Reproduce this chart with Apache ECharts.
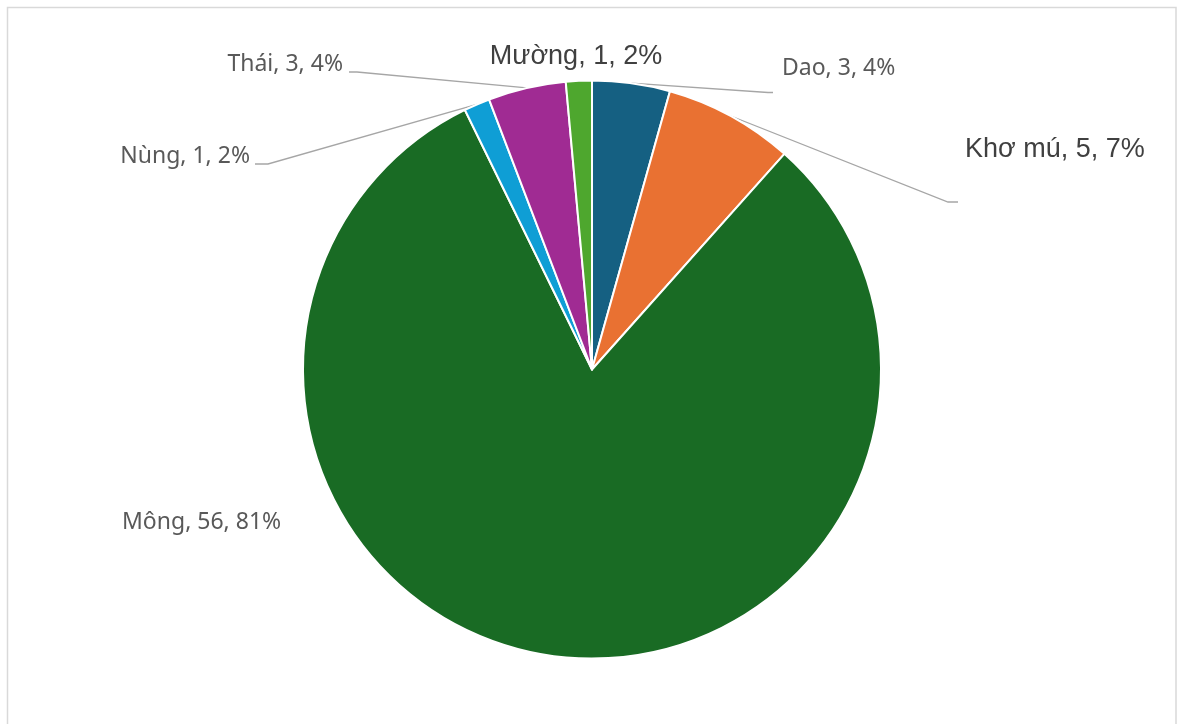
<!DOCTYPE html>
<html>
<head>
<meta charset="utf-8">
<script src="https://cdn.jsdelivr.net/npm/echarts@6/dist/echarts.min.js"></script>
<style>
  html, body { margin: 0; padding: 0; background: #ffffff; }
  #chart { width: 1177px; height: 724px; }
</style>
</head>
<body>
<div id="chart"></div>
<script>
// Ethnic groups, clockwise from 12 o'clock
var categories = ['Dao', 'Khơ mú', 'Mông', 'Nùng', 'Thái', 'Mường'];
var counts = [3, 5, 56, 1, 3, 1];
var percentLabels = ['4%', '7%', '81%', '2%', '4%', '2%'];
var sliceColors = ['#156082', '#E97132', '#196B24', '#0F9ED5', '#A02B93', '#4EA72E'];

// Label placement: anchor point, alignment, font style and leader-line bends
var labelPlacement = [
  { x: 782, y: 68,  align: 'left',   big: false, line: [[768, 92.5], [773, 92.5]] },
  { x: 965, y: 150, align: 'left',   big: true,  line: [[948, 202], [958, 202]] },
  { x: 122, y: 522, align: 'left',   big: false, line: null },
  { x: 250, y: 156, align: 'right',  big: false, line: [[268, 164], [255, 164]] },
  { x: 343, y: 64,  align: 'right',  big: false, line: [[357, 72], [349, 72]] },
  { x: 576, y: 57,  align: 'center', big: true,  line: null }
];

var smallFont = { fontFamily: '"Noto Sans", sans-serif', fontSize: 23, color: '#595959' };
var bigFont = { fontFamily: '"Liberation Sans", Arial, sans-serif', fontSize: 27, color: '#404040' };

var seriesData = categories.map(function (name, i) {
  var p = labelPlacement[i];
  var f = p.big ? bigFont : smallFont;
  return {
    name: name,
    value: counts[i],
    itemStyle: { color: sliceColors[i] },
    label: {
      fontFamily: f.fontFamily,
      fontSize: f.fontSize,
      color: f.color
    },
    labelLine: { show: !!p.line }
  };
});

var chart = echarts.init(document.getElementById('chart'), null, { renderer: 'canvas' });

chart.setOption({
  backgroundColor: '#ffffff',
  animation: false,
  graphic: [{
    type: 'rect',
    shape: { x: 7.5, y: 7.5, width: 1168.5, height: 740 },
    style: { fill: 'none', stroke: '#d9d9d9', lineWidth: 1.5 },
    silent: true
  }],
  series: [{
    type: 'pie',
    center: [592, 369.5],
    radius: 289,
    startAngle: 90,
    clockwise: true,
    avoidLabelOverlap: false,
    itemStyle: { borderColor: '#ffffff', borderWidth: 2 },
    label: {
      show: true,
      position: 'outside',
      formatter: function (params) {
        return params.name + ', ' + params.value + ', ' + percentLabels[params.dataIndex];
      }
    },
    labelLine: {
      show: true,
      smooth: false,
      length: 10,
      length2: 10,
      lineStyle: { color: '#a6a6a6', width: 1.3 }
    },
    labelLayout: function (params) {
      var p = labelPlacement[params.dataIndex];
      var out = { x: p.x, y: p.y, align: p.align, verticalAlign: 'middle' };
      if (p.line && params.labelLinePoints) {
        var start = params.labelLinePoints[0];
        out.labelLinePoints = [start, p.line[0], p.line[1]];
      }
      return out;
    },
    data: seriesData
  }]
});
</script>
</body>
</html>
